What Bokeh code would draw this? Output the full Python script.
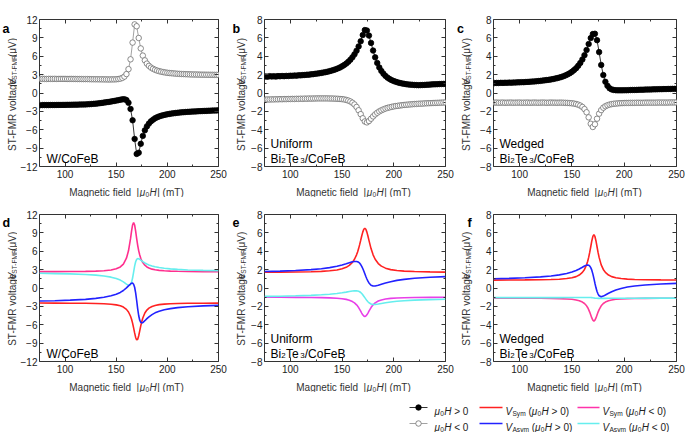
import math
from bokeh.plotting import figure
from bokeh.models import Range1d, LinearAxis, FixedTicker, Label, CustomJSTickFormatter
from bokeh.layouts import column, row
from bokeh.embed import file_html
from bokeh.resources import INLINE

FONT = "Liberation Sans"

# ---------------- data ----------------
field_mT = [76, 78, 80, 82, 84, 86, 88, 90, 92, 94, 96,
            98, 100, 102, 104, 106, 108, 110, 112, 114, 116, 118,
            120, 122, 124, 126, 128, 130, 132, 134, 136, 138, 140,
            142, 144, 146, 148, 150, 152, 154, 156, 158, 160, 162,
            164, 166, 168, 170, 172, 174, 176, 178, 180, 182, 184,
            186, 188, 190, 192, 194, 196, 198, 200, 202, 204, 206,
            208, 210, 212, 214, 216, 218, 220, 222, 224, 226, 228,
            230, 232, 234, 236, 238, 240, 242, 244, 246, 248, 250]

# panel a : W/CoFeB
a_pos = [-1.98, -1.97, -1.97, -1.97, -1.97, -1.96, -1.96, -1.96, -1.95, -1.95, -1.95,
         -1.94, -1.94, -1.93, -1.93, -1.92, -1.91, -1.90, -1.90, -1.89, -1.88, -1.87,
         -1.86, -1.84, -1.82, -1.80, -1.77, -1.74, -1.70, -1.66, -1.62, -1.57, -1.52,
         -1.47, -1.42, -1.36, -1.30, -1.24, -1.17, -1.10, -1.04, -1.02, -1.15, -1.60,
         -2.60, -4.45, -7.50, -9.95, -9.75, -8.30, -7.00, -6.10, -5.45, -4.98, -4.62,
         -4.35, -4.13, -3.96, -3.82, -3.71, -3.62, -3.54, -3.47, -3.41, -3.36, -3.31,
         -3.27, -3.23, -3.19, -3.16, -3.13, -3.10, -3.08, -3.06, -3.04, -3.02, -3.00,
         -2.98, -2.96, -2.95, -2.93, -2.92, -2.90, -2.89, -2.87, -2.86, -2.85, -2.83]
a_neg = [2.30, 2.31, 2.30, 2.29, 2.31, 2.30, 2.30, 2.31, 2.29, 2.30, 2.30,
         2.30, 2.30, 2.29, 2.29, 2.30, 2.29, 2.29, 2.28, 2.28, 2.28, 2.27,
         2.27, 2.27, 2.26, 2.25, 2.25, 2.24, 2.24, 2.23, 2.23, 2.22, 2.22,
         2.21, 2.21, 2.22, 2.22, 2.24, 2.28, 2.34, 2.46, 2.68, 3.09, 3.90,
         5.50, 8.23, 11.2, 10.9, 8.98, 7.28, 6.11, 5.33, 4.80, 4.43, 4.15,
         3.95, 3.79, 3.66, 3.56, 3.48, 3.41, 3.35, 3.30, 3.26, 3.23, 3.20,
         3.17, 3.14, 3.12, 3.10, 3.09, 3.07, 3.06, 3.04, 3.03, 3.02, 3.02,
         3.01, 3.00, 2.99, 2.99, 2.98, 2.98, 2.97, 2.97, 2.96, 2.96, 2.96]

# panel b : uniform Bi2Te3/CoFeB
b_pos = [1.80, 1.78, 1.83, 1.80, 1.82, 1.79, 1.84, 1.82, 1.85, 1.83, 1.86,
         1.85, 1.88, 1.87, 1.90, 1.89, 1.93, 1.92, 1.95, 1.96, 1.99, 2.00,
         2.03, 2.05, 2.09, 2.11, 2.15, 2.19, 2.23, 2.27, 2.32, 2.38, 2.44,
         2.51, 2.59, 2.68, 2.78, 2.90, 3.04, 3.20, 3.39, 3.62, 3.89, 4.21,
         4.60, 5.07, 5.63, 6.31, 6.85, 6.80, 6.25, 5.45, 4.62, 3.88, 3.27,
         2.78, 2.40, 2.10, 1.86, 1.67, 1.52, 1.40, 1.30, 1.22, 1.15, 1.09,
         1.04, 1.00, 0.96, 0.93, 0.91, 0.89, 0.87, 0.86, 0.85, 0.86, 0.87,
         0.88, 0.90, 0.91, 0.93, 0.94, 0.95, 0.96, 0.97, 0.98, 0.99, 1.00]
b_neg = [-0.72, -0.70, -0.71, -0.69, -0.70, -0.68, -0.69, -0.67, -0.68, -0.66, -0.67,
         -0.65, -0.66, -0.64, -0.65, -0.63, -0.64, -0.62, -0.63, -0.61, -0.62, -0.60,
         -0.61, -0.60, -0.60, -0.59, -0.59, -0.59, -0.59, -0.59, -0.59, -0.60, -0.60,
         -0.61, -0.62, -0.63, -0.65, -0.67, -0.70, -0.75, -0.82, -0.92, -1.06, -1.25,
         -1.52, -1.88, -2.30, -2.75, -3.10, -3.20, -3.05, -2.80, -2.55, -2.33, -2.15,
         -2.00, -1.88, -1.78, -1.69, -1.62, -1.56, -1.51, -1.46, -1.42, -1.39, -1.36,
         -1.33, -1.30, -1.28, -1.26, -1.24, -1.22, -1.20, -1.19, -1.17, -1.16, -1.15,
         -1.13, -1.12, -1.11, -1.10, -1.09, -1.08, -1.07, -1.06, -1.05, -1.04, -1.03]

# panel c : wedged Bi2Te3/CoFeB
c_pos = [1.08, 1.10, 1.09, 1.11, 1.10, 1.12, 1.11, 1.13, 1.12, 1.14, 1.14,
         1.16, 1.16, 1.18, 1.18, 1.20, 1.21, 1.23, 1.24, 1.26, 1.28, 1.30,
         1.32, 1.35, 1.38, 1.41, 1.44, 1.48, 1.52, 1.57, 1.62, 1.68, 1.75,
         1.83, 1.92, 2.03, 2.16, 2.31, 2.49, 2.70, 2.96, 3.27, 3.65, 4.12,
         4.68, 5.33, 5.98, 6.42, 6.45, 5.75, 4.45, 3.05, 1.95, 1.22, 0.78,
         0.52, 0.39, 0.33, 0.30, 0.29, 0.29, 0.29, 0.30, 0.30, 0.31, 0.32,
         0.33, 0.33, 0.34, 0.35, 0.36, 0.36, 0.37, 0.38, 0.38, 0.39, 0.40,
         0.40, 0.41, 0.42, 0.42, 0.43, 0.43, 0.44, 0.44, 0.45, 0.45, 0.46]
c_neg = [-1.05, -1.04, -1.06, -1.05, -1.04, -1.06, -1.05, -1.05, -1.04, -1.06, -1.05,
         -1.05, -1.04, -1.06, -1.05, -1.05, -1.04, -1.06, -1.05, -1.04, -1.05, -1.06,
         -1.05, -1.04, -1.05, -1.06, -1.05, -1.04, -1.05, -1.05, -1.06, -1.05, -1.05,
         -1.06, -1.07, -1.08, -1.10, -1.12, -1.15, -1.20, -1.27, -1.37, -1.52, -1.75,
         -2.10, -2.65, -3.35, -3.70, -3.40, -2.80, -2.25, -1.86, -1.60, -1.44, -1.33,
         -1.26, -1.21, -1.17, -1.15, -1.13, -1.11, -1.10, -1.09, -1.08, -1.08, -1.07,
         -1.07, -1.07, -1.06, -1.06, -1.06, -1.06, -1.05, -1.05, -1.05, -1.05, -1.05,
         -1.05, -1.04, -1.04, -1.04, -1.04, -1.04, -1.04, -1.03, -1.03, -1.03, -1.03]

# fitted curves
fit_mT = [75, 90, 105, 120, 130, 138, 145, 150, 154, 157,
          160, 162, 164, 165, 166, 167, 168, 169, 170, 171,
          172, 173, 174, 175, 176, 178, 180, 182, 185, 188,
          192, 197, 203, 210, 220, 235, 250]

d_sym_pos = [-2.46, -2.47, -2.48, -2.50, -2.53, -2.58, -2.65, -2.76, -2.91, -3.12,
             -3.49, -3.92, -4.61, -5.11, -5.74, -6.50, -7.33, -8.07, -8.48, -8.37,
             -7.80, -7.00, -6.18, -5.48, -4.90, -4.09, -3.60, -3.29, -3.01, -2.85,
             -2.72, -2.63, -2.57, -2.53, -2.50, -2.48, -2.47]
d_asym_pos = [-2.13, -2.07, -1.98, -1.85, -1.70, -1.52, -1.28, -1.02, -0.72, -0.41,
              0.01, 0.34, 0.66, 0.78, 0.79, 0.61, 0.12, -0.78, -2.04, -3.40,
              -4.53, -5.26, -5.61, -5.70, -5.64, -5.34, -5.00, -4.70, -4.34, -4.06,
              -3.80, -3.56, -3.37, -3.21, -3.06, -2.92, -2.83]
d_sym_neg = [2.67, 2.67, 2.69, 2.72, 2.76, 2.82, 2.95, 3.13, 3.44, 3.91,
             4.86, 6.07, 8.06, 9.27, 10.29, 10.70, 10.29, 9.27, 8.06, 6.97,
             6.07, 5.38, 4.86, 4.45, 4.15, 3.72, 3.44, 3.26, 3.08, 2.97,
             2.88, 2.81, 2.76, 2.73, 2.70, 2.68, 2.67]
d_asym_neg = [2.40, 2.35, 2.30, 2.20, 2.10, 1.96, 1.77, 1.55, 1.29, 1.00,
              0.64, 0.42, 0.53, 0.92, 1.63, 2.60, 3.57, 4.28, 4.67, 4.79,
              4.78, 4.68, 4.56, 4.44, 4.31, 4.09, 3.91, 3.77, 3.59, 3.46,
              3.34, 3.22, 3.12, 3.04, 2.95, 2.88, 2.83]

e_sym_pos = [1.72, 1.73, 1.74, 1.77, 1.81, 1.87, 1.96, 2.09, 2.25, 2.46,
             2.79, 3.13, 3.61, 3.92, 4.29, 4.72, 5.18, 5.66, 6.08, 6.39,
             6.50, 6.39, 6.08, 5.66, 5.18, 4.29, 3.61, 3.13, 2.66, 2.38,
             2.16, 2.00, 1.90, 1.84, 1.79, 1.75, 1.73]
e_asym_pos = [1.80, 1.84, 1.91, 2.00, 2.10, 2.22, 2.36, 2.50, 2.63, 2.74,
              2.85, 2.89, 2.89, 2.86, 2.80, 2.70, 2.55, 2.36, 2.12, 1.85,
              1.55, 1.25, 0.98, 0.74, 0.55, 0.30, 0.21, 0.21, 0.29, 0.40,
              0.54, 0.69, 0.83, 0.94, 1.06, 1.17, 1.24]
e_sym_neg = [-1.01, -1.01, -1.02, -1.03, -1.05, -1.07, -1.12, -1.17, -1.24, -1.33,
             -1.48, -1.62, -1.83, -1.97, -2.13, -2.32, -2.52, -2.73, -2.92, -3.05,
             -3.10, -3.05, -2.92, -2.73, -2.52, -2.13, -1.83, -1.62, -1.42, -1.30,
             -1.20, -1.13, -1.09, -1.06, -1.04, -1.02, -1.01]
e_asym_neg = [-0.91, -0.89, -0.85, -0.80, -0.74, -0.68, -0.60, -0.52, -0.45, -0.39,
              -0.33, -0.30, -0.31, -0.32, -0.36, -0.41, -0.49, -0.60, -0.73, -0.89,
              -1.05, -1.21, -1.37, -1.50, -1.61, -1.74, -1.79, -1.80, -1.75, -1.69,
              -1.61, -1.53, -1.45, -1.39, -1.32, -1.26, -1.22]

f_sym_pos = [0.86, 0.87, 0.88, 0.90, 0.92, 0.96, 1.03, 1.12, 1.24, 1.41,
             1.70, 2.02, 2.52, 2.88, 3.33, 3.87, 4.49, 5.12, 5.61, 5.80,
             5.61, 5.12, 4.49, 3.87, 3.33, 2.52, 2.02, 1.70, 1.41, 1.24,
             1.12, 1.03, 0.97, 0.93, 0.90, 0.88, 0.87]
f_asym_pos = [1.01, 1.05, 1.11, 1.21, 1.31, 1.43, 1.58, 1.74, 1.91, 2.07,
              2.26, 2.39, 2.49, 2.51, 2.48, 2.39, 2.22, 1.94, 1.54, 1.04,
              0.52, 0.02, -0.38, -0.66, -0.84, -0.95, -0.88, -0.76, -0.57, -0.40,
              -0.21, -0.05, 0.10, 0.21, 0.33, 0.43, 0.50]
f_sym_neg = [-1.11, -1.11, -1.11, -1.12, -1.14, -1.16, -1.19, -1.23, -1.30, -1.38,
             -1.53, -1.69, -1.94, -2.12, -2.35, -2.62, -2.94, -3.26, -3.50, -3.60,
             -3.50, -3.26, -2.94, -2.62, -2.35, -1.94, -1.69, -1.53, -1.38, -1.30,
             -1.23, -1.19, -1.16, -1.14, -1.13, -1.12, -1.11]
f_asym_neg = [-1.05, -1.05, -1.05, -1.05, -1.05, -1.05, -1.04, -1.04, -1.04, -1.04,
              -1.03, -1.03, -1.03, -1.03, -1.03, -1.04, -1.04, -1.05, -1.06, -1.08,
              -1.10, -1.11, -1.12, -1.13, -1.13, -1.13, -1.13, -1.13, -1.12, -1.12,
              -1.12, -1.11, -1.11, -1.11, -1.10, -1.10, -1.10]

x_ticks = [100, 150, 200, 250]
x_minor = [125, 175, 225]
y_ticks_w = [-12, -9, -6, -3, 0, 3, 6, 9, 12]
y_minor_w = [-10.5, -7.5, -4.5, -1.5, 1.5, 4.5, 7.5, 10.5]
y_ticks_bt = [-8, -6, -4, -2, 0, 2, 4, 6, 8]
y_minor_bt = [-7, -5, -3, -1, 1, 3, 5, 7]

# ---------------- styles ----------------
RED = "#ff2222"
BLUE = "#2222ff"
CYAN = "#66eeee"
MAG_D = "#ff2f8e"
MAG_E = "#e83fe8"
MAG_F = "#ff3a98"
FRAME = "#333333"
TXT = "#333333"

CW = {' ': 278, '(': 333, ')': 333, '-': 333, '/': 278, '0': 556, '1': 556, '2': 556,
      '3': 556, '<': 584, '>': 584, 'A': 667, 'B': 667, 'C': 722, 'F': 611, 'H': 722,
      'M': 833, 'R': 722, 'S': 667, 'T': 611, 'U': 722, 'V': 667, 'W': 944, 'a': 556,
      'c': 500, 'd': 556, 'e': 556, 'f': 278, 'g': 556, 'i': 222, 'l': 222, 'm': 833,
      'n': 556, 'o': 556, 'r': 333, 's': 500, 't': 278, 'v': 500, 'y': 500, '|': 260,
      'μ': 576, 'b': 556, 'h': 556, 'u': 556}


def tw(s, size):
    return sum(CW.get(ch, 556) for ch in s) * size / 1000.0


def rich(p, x, y, pieces, size, vertical=False, color=TXT, center=False):
    sub_r = 0.66
    total = 0.0
    for t, st, g in pieces:
        fs = size * sub_r if st == "sub" else size
        total += tw(t, fs) + g
    off = -total / 2.0 if center else 0.0
    for t, st, g in pieces:
        fs = size * sub_r if st == "sub" else size
        sh = size * 0.2 if st == "sub" else 0.0
        fstyle = {"i": "italic", "b": "bold"}.get(st, "normal")
        kw = dict(text=t, text_font=FONT, text_font_size=f"{fs:.1f}px",
                  text_color=color, text_align="left", text_baseline="alphabetic",
                  text_font_style=fstyle)
        if vertical:
            lab = Label(x=x + sh, y=y + off, angle=math.pi / 2, **kw)
        else:
            lab = Label(x=x + off, y=y - sh, **kw)
        p.add_layout(lab)
        off += tw(t, fs) + g


def strip(w, h):
    s = figure(width=w, height=h, x_range=Range1d(0, w), y_range=Range1d(0, h),
               output_backend="svg", toolbar_location=None, x_axis_type=None, y_axis_type=None,
               min_border_left=0, min_border_right=0, min_border_top=0, min_border_bottom=0)
    s.grid.visible = False
    s.outline_line_color = None
    s.background_fill_color = "white"
    s.border_fill_color = "white"
    return s


def style_axis(ax, ticker, labels=True, standoff=3):
    ax.ticker = ticker
    ax.axis_line_color = None
    ax.major_tick_in = 4
    ax.major_tick_out = 0
    ax.minor_tick_in = 2
    ax.minor_tick_out = 0
    ax.major_tick_line_color = FRAME
    ax.minor_tick_line_color = FRAME
    ax.major_label_text_font = FONT
    ax.major_label_text_font_size = "10px"
    ax.major_label_text_color = "#222222"
    ax.major_label_standoff = standoff
    if not labels:
        ax.formatter = CustomJSTickFormatter(code="return ''")
        ax.major_label_text_font_size = "1px"
        ax.major_label_standoff = 0


def panel(ylo, yhi, yticks, yminor, w, bl, br, bt, bb, h, sample):
    p = figure(width=w, height=h, x_range=Range1d(75, 250), y_range=Range1d(ylo, yhi),
               output_backend="svg", toolbar_location=None,
               min_border_left=bl, min_border_right=br, min_border_top=bt, min_border_bottom=bb)
    p.xgrid.visible = False
    p.ygrid.visible = False
    p.outline_line_color = FRAME
    p.outline_line_width = 1
    p.background_fill_color = "white"
    p.border_fill_color = "white"
    style_axis(p.xaxis[0], FixedTicker(ticks=x_ticks, minor_ticks=x_minor))
    style_axis(p.yaxis[0], FixedTicker(ticks=yticks, minor_ticks=yminor), standoff=2)
    top = LinearAxis()
    style_axis(top, FixedTicker(ticks=x_ticks, minor_ticks=x_minor), labels=False)
    p.add_layout(top, "above")
    right = LinearAxis()
    style_axis(right, FixedTicker(ticks=yticks, minor_ticks=yminor), labels=False)
    p.add_layout(right, "right")
    # sample name (inside the frame)
    if sample == "W":
        p.add_layout(Label(x=75, y=ylo, x_offset=7, y_offset=8, text="W/CoFeB", text_font=FONT,
                           text_font_size="12px", text_color="black", text_baseline="alphabetic"))
    else:
        p.add_layout(Label(x=75, y=ylo, x_offset=6, y_offset=23, text=sample, text_font=FONT,
                           text_font_size="12px", text_color="black", text_baseline="alphabetic"))
        pieces = [("Bi", 0.2, False), ("2", 0.2, True), ("Te", 0.2, False), ("3", 0.2, True),
                  ("/CoFeB", 0, False)]
        off = 6.0
        for t, g, sub in pieces:
            fs = 7.9 if sub else 12
            p.add_layout(Label(x=75, y=ylo, x_offset=off, y_offset=6 if sub else 8, text=t,
                               text_font=FONT, text_font_size=f"{fs}px", text_color="black",
                               text_baseline="alphabetic"))
            off += tw(t, fs) + g
    return p


def add_data(p, pos, neg):
    p.line(field_mT, neg, line_color="#8a8a8a", line_width=0.8)
    p.scatter(field_mT, neg, marker="circle", size=5.5, fill_color="white",
              line_color="#6e6e6e", line_width=0.8)
    p.line(field_mT, pos, line_color="black", line_width=0.8)
    p.scatter(field_mT, pos, marker="circle", size=5.5, fill_color="black",
              line_color="black", line_width=0.8)


def add_fits(p, sp, ap, sn, an, mag):
    p.line(fit_mT, sp, line_color=RED, line_width=1.6)
    p.line(fit_mT, sn, line_color=mag, line_width=1.6)
    p.line(fit_mT, an, line_color=CYAN, line_width=1.6)
    p.line(fit_mT, ap, line_color=BLUE, line_width=1.6)


YLAB = [("ST-FMR voltage", "n", 8.0), ("V", "i", 0.4), ("ST-FMR", "sub", 3.0), ("(μV)", "n", 0)]
XLAB = [("Magnetic field", "n", 5.5), ("|", "n", 0.6), ("μ", "i", 0), ("0", "sub", 0.3),
        ("H", "i", 0.6), ("|", "n", 2.8), ("(mT)", "n", 0)]


def ystrip(w, h, letter, lx, ly, base_x, yc):
    s = strip(w, h)
    s.add_layout(Label(x=lx, y=ly, text=letter, text_font=FONT, text_font_size="12.5px",
                       text_font_style="bold", text_color="black", text_baseline="alphabetic"))
    rich(s, base_x, yc, YLAB, 10, vertical=True, center=True)
    return s


H1, H2 = 181, 179
# row 1
ya = ystrip(17, H1, "a", 2, H1 - 12, 12, H1 - 94.5)
pa = panel(-12, 12, y_ticks_w, y_minor_w, 211, 17, 10, 19, 15, H1, "W")
yb = ystrip(20, H1, "b", 4, H1 - 12, 13, H1 - 94.5)
pb = panel(-8, 8, y_ticks_bt, y_minor_bt, 207, 13, 10, 19, 15, H1, "Uniform")
yc = ystrip(22, H1, "c", 1.5, H1 - 12, 11, H1 - 94.5)
pc = panel(-8, 8, y_ticks_bt, y_minor_bt, 208, 15, 9, 19, 15, H1, "Wedged")
# row 2
yd = ystrip(17, H2, "d", 2, H2 - 10, 12, H2 - 92.5)
pd = panel(-12, 12, y_ticks_w, y_minor_w, 211, 17, 10, 17, 15, H2, "W")
ye = ystrip(20, H2, "e", 4, H2 - 10, 13, H2 - 92.5)
pe = panel(-8, 8, y_ticks_bt, y_minor_bt, 207, 13, 10, 17, 15, H2, "Uniform")
yf = ystrip(22, H2, "f", 12, H2 - 10, 11, H2 - 92.5)
pf = panel(-8, 8, y_ticks_bt, y_minor_bt, 208, 15, 9, 17, 15, H2, "Wedged")

add_data(pa, a_pos, a_neg)
add_data(pb, b_pos, b_neg)
add_data(pc, c_pos, c_neg)
add_fits(pd, d_sym_pos, d_asym_pos, d_sym_neg, d_asym_neg, MAG_D)
add_fits(pe, e_sym_pos, e_asym_pos, e_sym_neg, e_asym_neg, MAG_E)
add_fits(pf, f_sym_pos, f_asym_pos, f_sym_neg, f_asym_neg, MAG_F)

# x-axis titles
TW = 685
xt1 = strip(TW, 16)
xt2 = strip(TW, 16)
for s in (xt1, xt2):
    for cx in (126, 353, 584):
        rich(s, cx, 5, XLAB, 10, center=True)

# ---------------- legend ----------------
LH = 40
leg = strip(TW, LH)
R1, R2 = 25, 9
leg.segment(x0=[409, 409], y0=[R1, R2], x1=[427, 427], y1=[R1, R2],
            line_color=["black", "#8a8a8a"], line_width=0.8)
leg.scatter([418, 418], [R1, R2], marker="circle", size=5.5,
            fill_color=["black", "white"], line_color=["black", "#6e6e6e"], line_width=0.8)
leg.segment(x0=[479, 479, 577, 577], y0=[R1, R2, R1, R2], x1=[502, 502, 599, 599],
            y1=[R1, R2, R1, R2], line_color=[RED, BLUE, "#ff33aa", CYAN], line_width=1.6)

LS = 10


def mu_h(sign):
    return [("μ", "i", 0), ("0", "sub", 0.3), ("H", "i", 2.8), (sign + " 0", "n", 0)]


def v_lab(kind, sign):
    return [("V", "i", 0.3), (kind, "sub", 2.8), ("(", "n", 0), ("μ", "i", 0),
            ("0", "sub", 0.3), ("H", "i", 2.8), (sign + " 0)", "n", 0)]


rich(leg, 434, R1 - 3.5, mu_h(">"), LS, color="#222222")
rich(leg, 434, R2 - 3.5, mu_h("<"), LS, color="#222222")
rich(leg, 505, R1 - 3.5, v_lab("Sym", ">"), LS, color="#222222")
rich(leg, 505, R2 - 3.5, v_lab("Asym", ">"), LS, color="#222222")
rich(leg, 602, R1 - 3.5, v_lab("Sym", "<"), LS, color="#222222")
rich(leg, 602, R2 - 3.5, v_lab("Asym", "<"), LS, color="#222222")

layout = column(row(ya, pa, yb, pb, yc, pc), xt1, row(yd, pd, ye, pe, yf, pf), xt2, leg)

with open("out.html", "w") as fh:
    fh.write(file_html(layout, INLINE, title="ST-FMR"))
